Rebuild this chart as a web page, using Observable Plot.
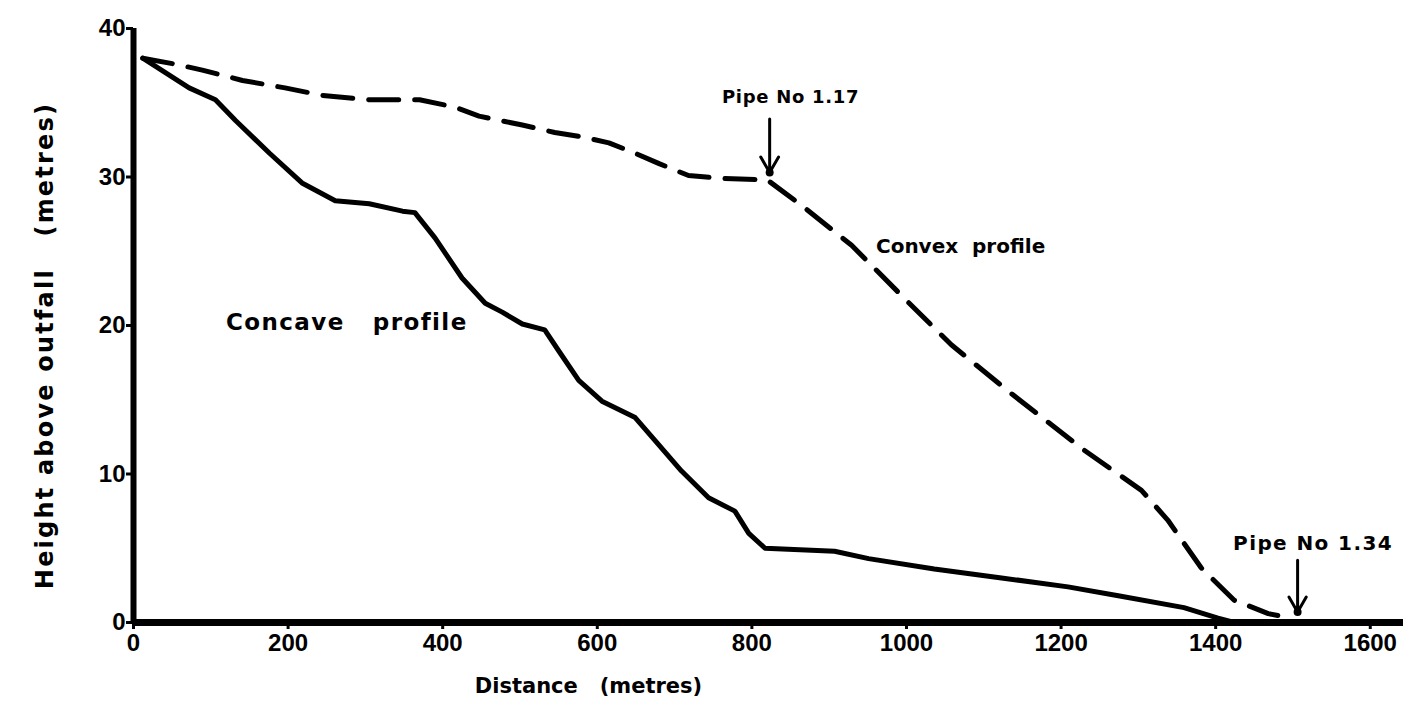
<!DOCTYPE html>
<html>
<head>
<meta charset="utf-8">
<script src="https://cdn.jsdelivr.net/npm/d3@7"></script>
<script src="https://cdn.jsdelivr.net/npm/@observablehq/plot@0.6"></script>
<style>
  html, body { margin: 0; padding: 0; background: #fff; }
  #chart svg { display: block; }
</style>
</head>
<body>
<div id="chart"></div>
<script>
// Concave profile (solid line)
const concaveDistance = [12, 72, 106, 132, 176, 218, 261, 305, 348, 364, 390, 425, 455, 477, 503, 532, 550, 576, 606, 649, 674, 709, 744, 778, 796, 817, 907, 951, 1036, 1123, 1209, 1274, 1359, 1403, 1424];
const concaveHeight   = [38.0, 36.0, 35.2, 33.8, 31.6, 29.6, 28.4, 28.2, 27.7, 27.6, 25.9, 23.2, 21.5, 20.9, 20.1, 19.7, 18.3, 16.3, 14.9, 13.8, 12.3, 10.2, 8.4, 7.5, 6.0, 5.0, 4.8, 4.3, 3.6, 3.0, 2.4, 1.8, 1.0, 0.3, 0.0];

// Convex profile (dashed line)
const convexDistance = [12, 54, 89, 141, 196, 244, 305, 370, 416, 447, 503, 545, 580, 615, 649, 680, 718, 761, 820, 864, 929, 994, 1058, 1136, 1230, 1304, 1338, 1381, 1424, 1468, 1497];
const convexHeight   = [38.0, 37.6, 37.2, 36.5, 36.0, 35.5, 35.2, 35.2, 34.7, 34.1, 33.5, 33.0, 32.7, 32.3, 31.6, 30.9, 30.1, 29.9, 29.8, 28.1, 25.4, 22.0, 18.7, 15.4, 11.6, 8.9, 6.9, 3.7, 1.5, 0.6, 0.3];

// Axis ticks
const xTicks = [0, 200, 400, 600, 800, 1000, 1200, 1400, 1600];
const yTicks = [0, 10, 20, 30, 40];

// Annotations (data coordinates)
const pipeLabels = ["Pipe No 1.17", "Pipe No 1.34"];
const pipeDistance = [823, 1506];
const pipeLabelHeight = [35.4, 5.3];
const pipeArrowFrom = [33.9, 4.2];
const pipeArrowTo = [30.3, 0.7];
const pipeLabelDistance = [850, 1526];

const profileLabels = ["Concave   profile", "Convex  profile"];
const profileLabelDistance = [276, 1070];
const profileLabelHeight = [20.2, 25.3];

const yTitle = "Height above outfall   (metres)";
const xTitle = "Distance   (metres)";

const concave = concaveDistance.map((d, i) => ({d, h: concaveHeight[i]}));
const convex = convexDistance.map((d, i) => ({d, h: convexHeight[i]}));
const pipes = pipeLabels.map((t, i) => ({t, x: pipeDistance[i], lx: pipeLabelDistance[i], ly: pipeLabelHeight[i], y1: pipeArrowFrom[i], y2: pipeArrowTo[i]}));
const profiles = profileLabels.map((t, i) => ({t, x: profileLabelDistance[i], y: profileLabelHeight[i]}));

const font = "Liberation Sans, Arial, sans-serif";
const labelFont = "DejaVu Sans, Verdana, sans-serif";

const chart = Plot.plot({
  width: 1403,
  height: 704,
  marginLeft: 133,
  marginRight: 0,
  marginTop: 28,
  marginBottom: 82,
  style: {fontFamily: font, fontWeight: "bold", background: "#fff", color: "#000"},
  x: {domain: [0, 1643], label: null},
  y: {domain: [0, 40], label: null},
  marks: [
    Plot.axisX({ticks: xTicks, tickFormat: d => String(d), tickSize: 7, tickPadding: 4, fontSize: 24, fontWeight: "bold", strokeWidth: 3, label: null}),
    Plot.axisY({ticks: yTicks, tickFormat: d => String(d), tickSize: 7, tickPadding: 1, fontSize: 24, fontWeight: "bold", strokeWidth: 3, label: null}),
    Plot.ruleX([0], {y1: 0, y2: 40, stroke: "#000", strokeWidth: 6}),
    Plot.ruleY([0], {x1: 0, x2: 1643, stroke: "#000", strokeWidth: 7}),
    Plot.line(concave, {x: "d", y: "h", stroke: "#000", strokeWidth: 5, strokeLinejoin: "round", strokeLinecap: "round"}),
    Plot.line(convex, {x: "d", y: "h", stroke: "#000", strokeWidth: 5, strokeDasharray: "30,16", strokeLinejoin: "round", strokeLinecap: "round"}),
    Plot.arrow(pipes, {x1: "x", x2: "x", y1: "y1", y2: "y2", stroke: "#000", strokeWidth: 3, headLength: 9}),
    Plot.dot(pipes, {x: "x", y: "y2", r: 4, fill: "#000"}),
    Plot.text([pipes[0]], {x: "lx", y: "ly", text: "t", fontFamily: labelFont, fontSize: 18, fontWeight: "bold", fill: "#000"}),
    Plot.text([pipes[1]], {x: "lx", y: "ly", text: "t", fontFamily: labelFont, fontSize: 20, fontWeight: "bold", fill: "#000"}),
    Plot.text([profiles[0]], {x: "x", y: "y", text: "t", fontFamily: labelFont, fontSize: 23, fontWeight: "bold", fill: "#000"}),
    Plot.text([profiles[1]], {x: "x", y: "y", text: "t", fontFamily: labelFont, fontSize: 20, fontWeight: "bold", fill: "#000"}),
    Plot.text([yTitle], {text: d => d, frameAnchor: "left", textAnchor: "middle", dx: -88, dy: 20, rotate: -90, fontFamily: labelFont, fontSize: 24, fontWeight: "bold", fill: "#000"}),
    Plot.text([xTitle], {text: d => d, frameAnchor: "bottom", textAnchor: "middle", dx: -180, dy: 70, fontFamily: labelFont, fontSize: 21, fontWeight: "bold", fill: "#000"})
  ]
});

// letter spacing of the heavy, widely-set lettering of the original
const spacing = new Map([
  [pipeLabels[0], 0.7],
  [pipeLabels[1], 1.4],
  [profileLabels[0], 1.4],
  [yTitle, 2.2]
]);
d3.select(chart).selectAll("text").each(function() {
  const s = spacing.get(this.textContent);
  if (s != null) this.setAttribute("letter-spacing", s);
});

document.getElementById("chart").appendChild(chart);
</script>
</body>
</html>
